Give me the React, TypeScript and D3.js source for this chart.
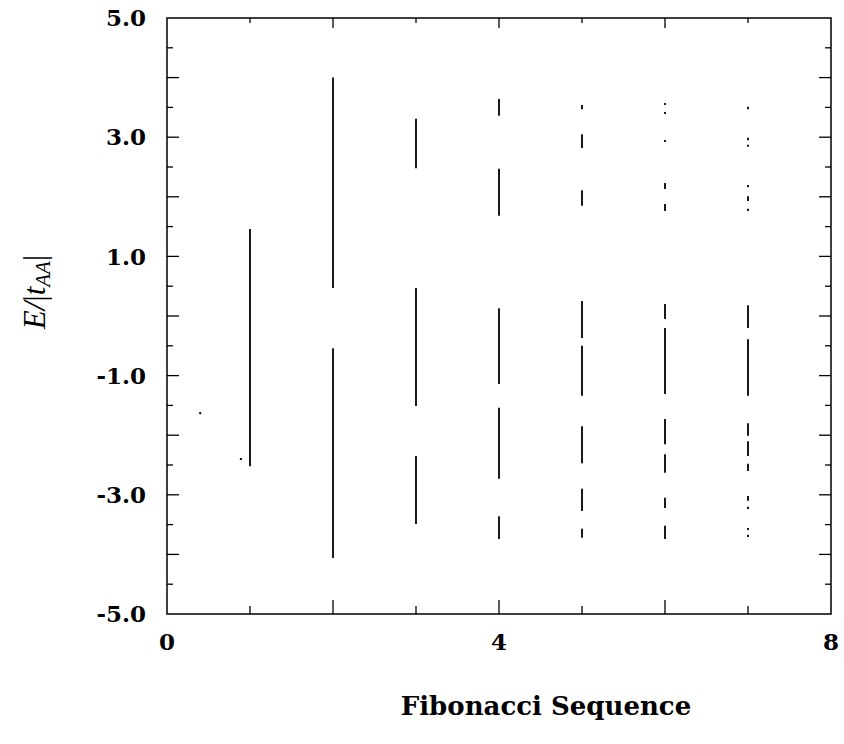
import React from "react";
import * as d3 from "d3";

// Energy bands (top, bottom) in units of E/|t_AA| for each Fibonacci generation
const generations = [1, 2, 3, 4, 5, 6, 7];

const bands1 = [[1.46, -2.52]];
const bands2 = [[4.0, 0.47], [-0.54, -4.06]];
const bands3 = [[3.31, 2.48], [0.47, -1.51], [-2.35, -3.49]];
const bands4 = [[3.64, 3.36], [2.47, 1.68], [0.13, -1.14], [-1.54, -2.73], [-3.36, -3.74]];
const bands5 = [
  [3.54, 3.47], [3.05, 2.82], [2.11, 1.85], [0.25, -0.37], [-0.5, -1.34],
  [-1.85, -2.47], [-2.9, -3.27], [-3.57, -3.72],
];
const bands6 = [
  [3.57, 3.54], [3.42, 3.39], [2.95, 2.92], [2.23, 2.13], [1.88, 1.76],
  [0.2, -0.05], [-0.2, -1.31], [-1.73, -2.15], [-2.32, -2.63], [-3.05, -3.22], [-3.52, -3.74],
];
const bands7 = [
  [3.51, 3.47], [2.99, 2.95], [2.87, 2.84], [2.2, 2.16], [2.01, 1.93], [1.8, 1.76],
  [0.18, -0.2], [-0.39, -1.34], [-1.8, -2.01], [-2.1, -2.35], [-2.48, -2.6],
  [-3.02, -3.1], [-3.2, -3.24], [-3.56, -3.59], [-3.67, -3.71],
];
const bandsByGen = [bands1, bands2, bands3, bands4, bands5, bands6, bands7];

// isolated levels
const strayX = [0.4, 0.89];
const strayE = [-1.63, -2.4];

const xLabelTicks = [0, 4, 8];
const xMinorTicks = [1, 2, 3, 4, 5, 6, 7];
const yLabelTicks = [5, 3, 1, -1, -3, -5];
const yMinorTicks = [-4.5, -4, -3.5, -3, -2.5, -2, -1.5, -1, -0.5, 0, 0.5, 1, 1.5, 2, 2.5, 3, 3.5, 4, 4.5];

const W = 844;
const H = 744;
const left = 167, right = 831, top = 18, bottom = 614;

export default function App() {
  const x = d3.scaleLinear().domain([0, 8]).range([left, right]);
  const y = d3.scaleLinear().domain([-5, 5]).range([bottom, top]);
  const font = "'DejaVu Serif', serif";

  const segs: { gx: number; y1: number; y2: number; key: string }[] = [];
  generations.forEach((g, i) => {
    bandsByGen[i].forEach((b, j) => {
      let y1 = y(b[0]);
      let y2 = y(b[1]);
      if (y2 - y1 < 2) {
        const m = (y1 + y2) / 2;
        y1 = m - 1;
        y2 = m + 1;
      }
      segs.push({ gx: x(g), y1, y2, key: `${g}-${j}` });
    });
  });

  return (
    <svg width={W} height={H} style={{ display: "block", position: "absolute", left: 0, top: 0, background: "#fff" }}>
      <rect x={0} y={0} width={W} height={H} fill="#fff" />
      {/* frame */}
      <rect x={left} y={top} width={right - left} height={bottom - top} fill="none" stroke="#000" strokeWidth={1.5} />
      {/* bottom / top ticks */}
      {xMinorTicks.map((t) => (
        <g key={"xt" + t}>
          <line x1={x(t)} x2={x(t)} y1={bottom} y2={bottom - (t % 2 === 0 ? 14 : 8)} stroke="#000" strokeWidth={1.3} />
          <line x1={x(t)} x2={x(t)} y1={top} y2={top + (t % 2 === 0 ? 10 : 5)} stroke="#000" strokeWidth={1.3} />
        </g>
      ))}
      {/* left / right ticks */}
      {yMinorTicks.map((t) => {
        const major = Number.isInteger(t);
        const len = major ? 12 : 6;
        return (
          <g key={"yt" + t}>
            <line x1={left} x2={left + len} y1={y(t)} y2={y(t)} stroke="#000" strokeWidth={1.3} />
            <line x1={right} x2={right - len} y1={y(t)} y2={y(t)} stroke="#000" strokeWidth={1.3} />
          </g>
        );
      })}
      {/* bands */}
      {segs.map((s) => (
        <line key={s.key} x1={s.gx} x2={s.gx} y1={s.y1} y2={s.y2} stroke="#000" strokeWidth={1.8} />
      ))}
      {strayX.map((sx, i) => (
        <rect key={"st" + i} x={x(sx) - 1} y={y(strayE[i]) - 1} width={2} height={2} fill="#000" />
      ))}
      {/* y labels */}
      {yLabelTicks.map((t) => (
        <text key={"yl" + t} x={146} y={y(t)} dy="0.36em" textAnchor="end" fontFamily={font} fontWeight="bold" fontSize={23}>
          {t.toFixed(1)}
        </text>
      ))}
      {/* x labels */}
      {xLabelTicks.map((t) => (
        <text key={"xl" + t} x={x(t)} y={650} textAnchor="middle" fontFamily={font} fontWeight="bold" fontSize={23}>
          {t}
        </text>
      ))}
      <text x={546} y={715} textAnchor="middle" fontFamily={font} fontWeight="bold" fontSize={26}>
        Fibonacci Sequence
      </text>
      <text transform={`translate(45, 292) rotate(-90)`} textAnchor="middle" fontFamily="'Liberation Serif', serif" fontStyle="italic" fontSize={31}>
        <tspan>E</tspan>
        <tspan>/</tspan>
        <tspan fontStyle="normal">|</tspan>
        <tspan>t</tspan>
        <tspan fontSize={21} dy={5}>AA</tspan>
        <tspan fontStyle="normal" dy={-5}>|</tspan>
      </text>
    </svg>
  );
}
